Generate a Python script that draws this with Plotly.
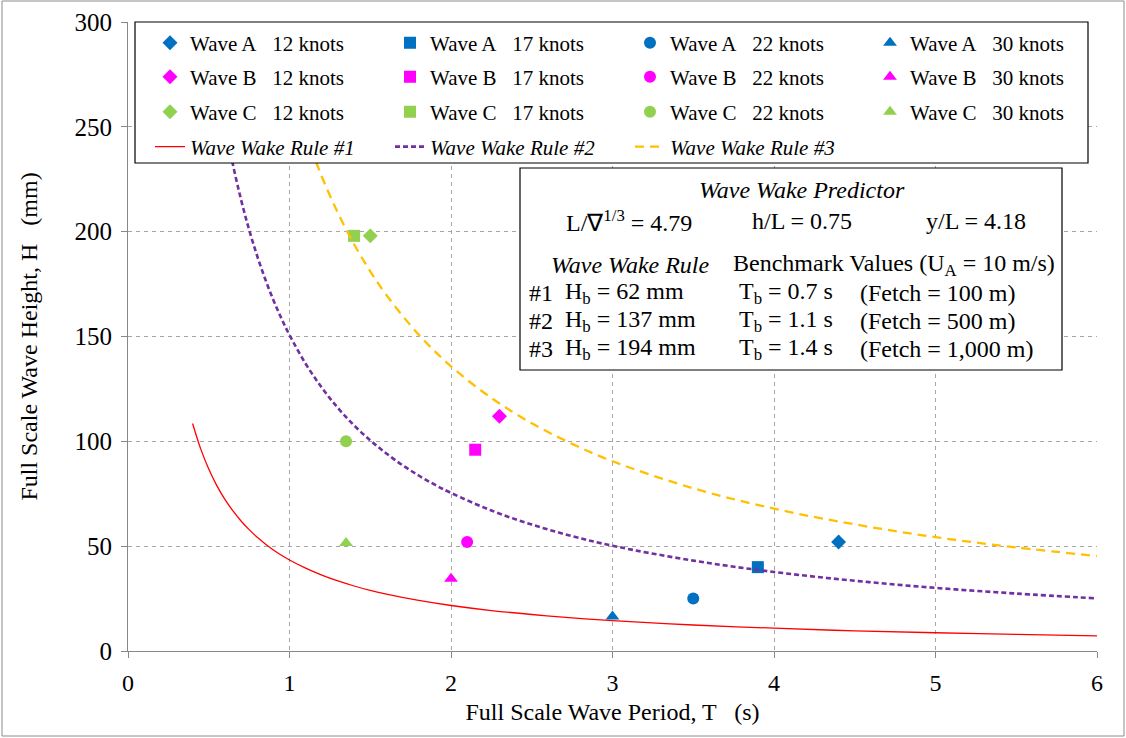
import plotly.graph_objects as go

# ---------------- data ----------------
waves = ["Wave A", "Wave B", "Wave C"]
speeds = ["12 knots", "17 knots", "22 knots", "30 knots"]

# measured points (T in s, H in mm), per wave, per speed
wave_a_T = [4.4, 3.9, 3.5, 3.0]
wave_a_H = [52, 40, 25, 16.5]
wave_b_T = [2.3, 2.15, 2.1, 2.0]
wave_b_H = [112, 96, 52, 34.5]
wave_c_T = [1.5, 1.4, 1.35, 1.35]
wave_c_H = [198, 198, 100, 51.5]

# wave wake rule curves
rule1_T = [0.4, 0.45, 0.5, 0.55, 0.6, 0.65, 0.7, 0.75, 0.8, 0.9, 1.0, 1.1, 1.2, 1.3, 1.4, 1.5, 1.6, 1.8,
           2.0, 2.25, 2.5, 2.75, 3.0, 3.5, 4.0, 4.5, 5.0, 5.5, 6.0]
rule1_H = [108.5, 96.4, 86.8, 78.9, 72.3, 66.8, 62.0, 57.9, 54.3, 48.2, 43.4, 39.5, 36.2, 33.4, 31.0, 28.9,
           27.1, 24.1, 21.7, 19.3, 17.4, 15.8, 14.5, 12.4, 10.9, 9.6, 8.7, 7.9, 7.2]
rule2_T = [0.5, 0.55, 0.6, 0.65, 0.7, 0.75, 0.8, 0.85, 0.9, 0.95, 1.0, 1.1, 1.2, 1.3, 1.4, 1.5, 1.6, 1.7,
           1.8, 1.9, 2.0, 2.25, 2.5, 2.75, 3.0, 3.5, 4.0, 4.5, 5.0, 5.5, 6.0]
rule2_H = [301.4, 274.0, 251.2, 231.8, 215.3, 200.9, 188.4, 177.3, 167.4, 158.6, 150.7, 137.0, 125.6, 115.9,
           107.6, 100.5, 94.2, 88.6, 83.7, 79.3, 75.4, 67.0, 60.3, 54.8, 50.2, 43.1, 37.7, 33.5, 30.1, 27.4, 25.1]
rule3_T = [0.9, 1.0, 1.1, 1.2, 1.3, 1.4, 1.5, 1.6, 1.8, 2.0, 2.25, 2.5, 2.75, 3.0, 3.5, 4.0, 4.5, 5.0, 5.5, 6.0]
rule3_H = [301.8, 271.6, 246.9, 226.3, 208.9, 194.0, 181.1, 169.8, 150.9, 135.8, 120.7, 108.6, 98.8, 90.5,
           77.6, 67.9, 60.4, 54.3, 49.4, 45.3]
rule_names = ["Wave Wake Rule #1", "Wave Wake Rule #2", "Wave Wake Rule #3"]

x_ticks = [0, 1, 2, 3, 4, 5, 6]
y_ticks = [0, 50, 100, 150, 200, 250, 300]

# ---------------- styles ----------------
W, H = 1126, 738
ML, MR, MT, MB = 128, 29, 22, 87
FONT = "Liberation Serif"
wave_colors = ["#0070C0", "#FF00FF", "#92D050"]
symbols = ["diamond", "square", "circle", "triangle-up"]
sizes = [11.5, 12, 12, 12]
rule_colors = ["#FF0000", "#7030A0", "#FFC000"]
rule_dash = ["solid", "5px,3px", "9px,6px"]
rule_width = [1.3, 2.6, 2.3]


def cx(px):
    return px / W


def cy(py):
    return 1 - py / H


def pxx(px):
    return (px - ML) / (W - ML - MR)


def pxy(py):
    return ((H - MB) - py) / (H - MT - MB)


fig = go.Figure()

wave_T = [wave_a_T, wave_b_T, wave_c_T]
wave_H = [wave_a_H, wave_b_H, wave_c_H]
legends = ["legend", "legend2", "legend3"]
for wi, wname in enumerate(waves):
    for si, sp in enumerate(speeds):
        fig.add_trace(go.Scatter(
            x=[wave_T[wi][si]], y=[wave_H[wi][si]], mode="markers",
            name=f"{wname}\u00a0\u00a0 {sp}",
            marker=dict(symbol=symbols[si], color=wave_colors[wi], size=sizes[si], line=dict(width=0)),
            legend=legends[wi],
        ))

for ri, (rt, rh) in enumerate([(rule1_T, rule1_H), (rule2_T, rule2_H), (rule3_T, rule3_H)]):
    fig.add_trace(go.Scatter(
        x=rt, y=rh, mode="lines", line_shape="spline",
        name=f"<i>{rule_names[ri]}</i>",
        line=dict(color=rule_colors[ri], dash=rule_dash[ri], width=rule_width[ri]),
        legend="legend4",
    ))

row_py = [43, 77, 112, 147]
lay_leg = {}
for i, name in enumerate(["legend", "legend2", "legend3", "legend4"]):
    lay_leg[name] = dict(
        x=cx(150), y=cy(row_py[i]), orientation="h", xref="container", yref="container",
        xanchor="left", yanchor="middle", entrywidth=195, entrywidthmode="pixels",
        bgcolor="rgba(0,0,0,0)", borderwidth=0,
        font=dict(family=FONT, size=21, color="#000000"),
    )

grid = dict(showgrid=True, gridcolor="#A6A6A6", griddash="4px,4px", gridwidth=1)
fig.update_layout(
    width=W, height=H,
    margin=dict(l=ML, r=MR, t=MT, b=MB, autoexpand=False),
    paper_bgcolor="white", plot_bgcolor="white",
    font=dict(family=FONT, size=22, color="#000"),
    showlegend=True,
    xaxis=dict(range=[0, 6], tickvals=x_ticks, ticks="outside", ticklen=6, tickcolor="#888",
               showline=True, linecolor="#888", linewidth=1.2, zeroline=False,
               ticklabelstandoff=4,
               title=dict(text="Full Scale Wave Period, T \u00a0\u00a0(s)", standoff=8,
                          font=dict(size=24)),
               tickfont=dict(size=24), **grid),
    yaxis=dict(range=[0, 300], tickvals=y_ticks, ticks="outside", ticklen=6, tickcolor="#888",
               showline=True, linecolor="#888", linewidth=1.2, zeroline=False,
               ticklabelstandoff=4,
               title=dict(text="Full Scale Wave Height, H \u00a0\u00a0(mm)", standoff=30,
                          font=dict(size=24)),
               tickfont=dict(size=25), **grid),
    **lay_leg,
)

shapes = [
    # outer chart border
    dict(type="rect", xref="paper", yref="paper", x0=pxx(2), x1=pxx(1124), y0=pxy(736), y1=pxy(1),
         line=dict(color="#8C8C8C", width=1), layer="below"),
    # legend box
    dict(type="rect", xref="paper", yref="paper", x0=pxx(135), x1=pxx(1088), y0=pxy(163), y1=pxy(22),
         line=dict(color="#000", width=1.2), fillcolor="white", layer="above"),
    # info box
    dict(type="rect", xref="paper", yref="paper", x0=pxx(520), x1=pxx(1062), y0=pxy(370), y1=pxy(168),
         line=dict(color="#000", width=1.2), fillcolor="white", layer="above"),
]
fig.update_layout(shapes=shapes)

# info box text
info_rows = [
    ("<i>Wave Wake Predictor</i>", 802, 190, "center"),
    ("L/\u2207<sup>1/3</sup> = 4.79", 564, 221, "left"),
    ("h/L = 0.75", 750, 221, "left"),
    ("y/L = 4.18", 924, 221, "left"),
    ("<i>Wave Wake Rule</i>", 549, 265, "left"),
    ("Benchmark Values (U<sub>A</sub> = 10 m/s)", 731, 265, "left"),
    ("#1", 527, 293, "left"), ("H<sub>b</sub> = 62 mm", 563, 293, "left"),
    ("T<sub>b</sub> = 0.7 s", 737, 293, "left"), ("(Fetch = 100 m)", 858, 293, "left"),
    ("#2", 527, 321, "left"), ("H<sub>b</sub> = 137 mm", 563, 321, "left"),
    ("T<sub>b</sub> = 1.1 s", 737, 321, "left"), ("(Fetch = 500 m)", 858, 321, "left"),
    ("#3", 527, 349, "left"), ("H<sub>b</sub> = 194 mm", 563, 349, "left"),
    ("T<sub>b</sub> = 1.4 s", 737, 349, "left"), ("(Fetch = 1,000 m)", 858, 349, "left"),
]
for txt, x, y, anc in info_rows:
    fig.add_annotation(text=txt, x=pxx(x), y=pxy(y), xref="paper", yref="paper",
                       xanchor=anc, yanchor="middle", showarrow=False,
                       font=dict(family=FONT, size=24, color="#000"))

fig.write_html("out.html")
